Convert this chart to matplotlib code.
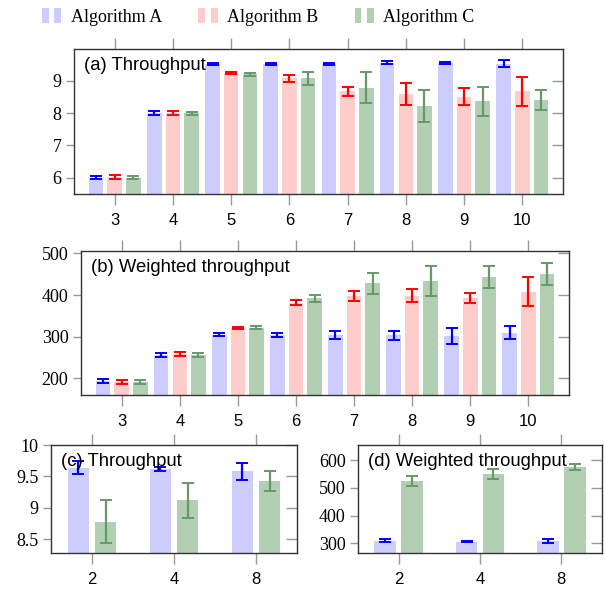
import numpy as np
import matplotlib
matplotlib.use('Agg')
import matplotlib.pyplot as plt
from matplotlib.patches import Rectangle
from matplotlib.legend_handler import HandlerBase

# ---- data ----
threads = [3, 4, 5, 6, 7, 8, 9, 10]
algos = ['Algorithm A', 'Algorithm B', 'Algorithm C']

tp_A = [6.00, 8.00, 9.52, 9.52, 9.52, 9.56, 9.55, 9.52]
tp_A_err = [0.05, 0.05, 0.02, 0.02, 0.02, 0.05, 0.03, 0.11]
tp_B = [6.02, 8.01, 9.23, 9.07, 8.68, 8.59, 8.50, 8.68]
tp_B_err = [0.07, 0.06, 0.03, 0.11, 0.14, 0.33, 0.26, 0.45]
tp_C = [6.00, 7.99, 9.20, 9.07, 8.78, 8.22, 8.37, 8.40]
tp_C_err = [0.05, 0.05, 0.04, 0.20, 0.48, 0.48, 0.45, 0.31]

wt_A = [193, 257, 305, 304, 304, 303, 301, 310]
wt_A_err = [5, 5, 4, 5, 9, 11, 19, 15]
wt_B = [192, 258, 321, 382, 397, 399, 394, 408]
wt_B_err = [5, 5, 3, 6, 12, 16, 12, 35]
wt_C = [192, 257, 322, 392, 428, 434, 443, 451]
wt_C_err = [5, 5, 3, 8, 25, 37, 26, 26]

cores = ['2', '4', '8']
c_tp_A = [9.64, 9.62, 9.58]
c_tp_A_err = [0.10, 0.03, 0.13]
c_tp_C = [8.78, 9.12, 9.42]
c_tp_C_err = [0.34, 0.28, 0.16]
d_wt_A = [309, 306, 308]
d_wt_A_err = [5, 2, 6]
d_wt_C = [524, 552, 577]
d_wt_C_err = [18, 18, 11]

fill = {'A': '#ccccff', 'B': '#ffcccc', 'C': '#b3cfb3'}
errc = {'A': '#0000ff', 'B': '#ff0000', 'C': '#66996a'}

SERIF = ['Liberation Serif', 'DejaVu Serif']
SANS = ['Liberation Sans', 'DejaVu Sans']
plt.rcParams['font.family'] = SERIF

W, H = 605, 591
fig = plt.figure(figsize=(W / 100, H / 100), dpi=100)


def px_axes(l, t, r, b):
    return fig.add_axes([l / W, 1 - b / H, (r - l) / W, (b - t) / H])


def style(ax, xticks, xlabels, yticks, ylim, xlim, title):
    ax.set_ylim(*ylim)
    ax.set_xlim(*xlim)
    ax.set_xticks(xticks)
    ax.set_xticklabels(xlabels, family=SANS, fontsize=12)
    ax.set_yticks(yticks)
    ax.set_yticklabels(['%g' % v for v in yticks], family=SERIF, fontsize=13)
    for s in ax.spines.values():
        s.set_color('#333333')
        s.set_linewidth(1.0)
    ax.tick_params(axis='x', which='both', direction='out', length=8, width=1,
                   color='#999999', top=True, labeltop=False, pad=6)
    ax.tick_params(axis='y', which='both', direction='out', length=6, width=1,
                   color='#999999', pad=3)
    # right side ticks pointing inward
    sec = ax.secondary_yaxis('right')
    sec.set_yticks(yticks)
    sec.tick_params(direction='in', length=8, width=1, color='#999999', labelright=False)
    sec.spines['right'].set_visible(False)
    ax.text(10 / (ax.bbox.width), 1 - 16 / ax.bbox.height, title, transform=ax.transAxes,
            ha='left', va='center', fontsize=13.3, family=SANS, zorder=10)


def bars(ax, x, vals, errs, key, width):
    ax.bar(x, vals, width, color=fill[key], linewidth=0.0, zorder=2)
    ax.errorbar(x, vals, yerr=errs, fmt='none', ecolor=errc[key], elinewidth=1.6,
                capsize=4, capthick=1.4, zorder=3)


x = np.array(threads, dtype=float)
off, bw = 0.32, 0.25
tlabels = [str(t) for t in threads]

axa = px_axes(74, 49, 563, 194)
bars(axa, x - off, tp_A, tp_A_err, 'A', bw)
bars(axa, x, tp_B, tp_B_err, 'B', bw)
bars(axa, x + off, tp_C, tp_C_err, 'C', bw)
style(axa, threads, tlabels, [6, 7, 8, 9], (5.5, 9.98), (2.3, 10.7), '(a) Throughput')

axb = px_axes(81, 251, 569, 395)
bars(axb, x - off, wt_A, wt_A_err, 'A', bw)
bars(axb, x, wt_B, wt_B_err, 'B', bw)
bars(axb, x + off, wt_C, wt_C_err, 'C', bw)
style(axb, threads, tlabels, [200, 300, 400, 500], (160, 506), (2.3, 10.7),
      '(b) Weighted throughput')

xc = np.arange(len(cores))
off2, bw2 = 0.165, 0.265

axc = px_axes(51, 445, 297, 553)
bars(axc, xc - off2, c_tp_A, c_tp_A_err, 'A', bw2)
bars(axc, xc + off2, c_tp_C, c_tp_C_err, 'C', bw2)
style(axc, xc, cores, [8.5, 9, 9.5, 10], (8.28, 10), (-0.5, 2.5), '(c) Throughput')

axd = px_axes(358, 445, 602, 553)
bars(axd, xc - off2, d_wt_A, d_wt_A_err, 'A', bw2)
bars(axd, xc + off2, d_wt_C, d_wt_C_err, 'C', bw2)
style(axd, xc, cores, [300, 400, 500, 600], (265, 655), (-0.5, 2.5),
      '(d) Weighted throughput')


class TwoBars(HandlerBase):
    def create_artists(self, legend, orig_handle, xdescent, ydescent, width, height,
                       fontsize, trans):
        out = []
        for fx in (0.0, 0.62):
            out.append(Rectangle((fx * width - xdescent, -ydescent - 0.1 * height),
                                 0.35 * width, 1.15 * height,
                                 facecolor=orig_handle.get_facecolor(),
                                 edgecolor='none', transform=trans))
        return out


handles = [Rectangle((0, 0), 1, 1, facecolor=fill[k]) for k in 'ABC']
fig.legend(handles, algos, loc='center left', bbox_to_anchor=(42 / W, 1 - 17 / H),
           ncol=3, frameon=False, prop={'family': SERIF, 'size': 13},
           handler_map={Rectangle: TwoBars()}, handlelength=1.1, handletextpad=0.5,
           columnspacing=2.0, borderpad=0, borderaxespad=0)

fig.savefig('out.png', dpi=100)
